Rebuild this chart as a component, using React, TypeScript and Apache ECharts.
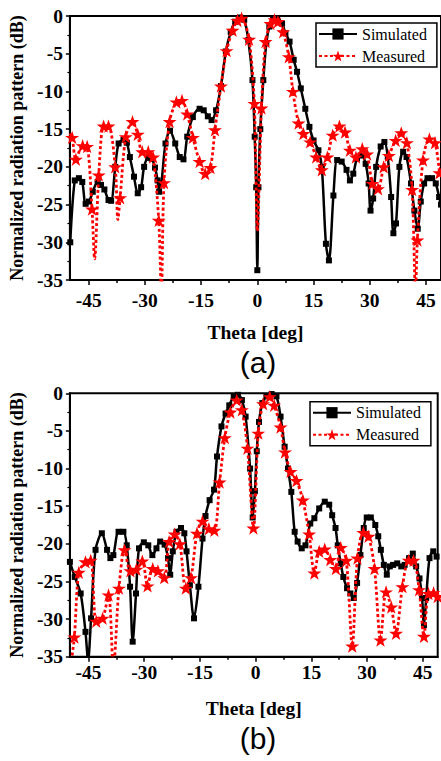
import React, { useEffect, useRef } from "react";
import * as echarts from "echarts";

// ---------- tick definitions ----------
const thetaTicks = [-45, -30, -15, 0, 15, 30, 45];
const thetaMinorTicks = [-37.5, -22.5, -7.5, 7.5, 22.5, 37.5];
const seriesNames = ["Simulated", "Measured"];

// ---------- (a) simulated ----------
const simATheta = [-49.9, -48.7, -47.6, -46.7, -45.8, -44.9, -43.9, -42.6, -41.7, -40.8, -39.7, -39.0, -37.9, -37.0, -35.7, -34.8, -34.0, -32.9, -31.9, -31.0, -30.2, -29.1, -28.2, -27.3, -26.6, -26.2, -25.6, -24.5, -23.3, -21.9, -20.7, -19.7, -18.7, -17.2, -15.4, -14.3, -13.2, -12.2, -11.0, -9.7, -8.4, -7.1, -5.9, -4.6, -3.5, -2.4, -1.3, -0.7, -0.3, 0.0, 0.3, 0.8, 1.6, 2.4, 3.2, 4.2, 5.3, 6.6, 7.5, 8.6, 9.7, 10.6, 11.6, 12.8, 13.9, 15.0, 16.3, 17.2, 18.3, 19.1, 20.3, 21.3, 22.5, 23.8, 24.7, 25.6, 26.6, 27.8, 28.9, 29.7, 30.2, 30.9, 31.7, 32.9, 33.9, 34.8, 35.7, 36.3, 37.0, 37.9, 38.9, 39.8, 41.0, 41.9, 42.8, 43.6, 44.5, 45.4, 46.6, 47.6, 48.5, 49.0];
const simADb = [-30.0, -21.8, -21.5, -22.0, -24.9, -24.6, -23.3, -22.0, -22.4, -23.0, -24.4, -24.5, -20.0, -16.9, -16.4, -16.8, -18.7, -21.3, -23.5, -22.7, -20.0, -18.8, -18.9, -20.1, -21.8, -23.3, -22.2, -16.9, -15.2, -16.9, -18.7, -19.0, -16.0, -13.4, -12.3, -12.5, -13.3, -13.8, -12.5, -9.3, -4.7, -2.1, -0.75, -0.2, -0.5, -3.2, -8.5, -16.0, -22.7, -33.7, -22.7, -15.0, -8.5, -3.6, -1.4, -0.45, -0.3, -1.0, -2.3, -3.4, -5.8, -7.4, -9.6, -12.3, -14.7, -16.5, -17.8, -20.0, -30.2, -32.4, -23.8, -19.1, -19.3, -20.4, -21.8, -20.9, -18.9, -18.5, -19.6, -22.2, -25.8, -24.2, -20.0, -17.3, -16.7, -18.7, -24.0, -28.8, -27.5, -20.0, -18.0, -18.7, -22.2, -25.8, -28.2, -24.6, -22.2, -21.5, -21.5, -22.2, -24.0, -25.0];

// ---------- (a) measured (star points and unmarked nulls) ----------
const measATheta = [-49.4, -48.4, -46.6, -45.4, -44.1, -42.3, -41.0, -39.7, -37.9, -36.6, -35.1, -33.3, -31.9, -30.7, -29.1, -27.8, -26.3, -24.9, -23.4, -21.6, -20.1, -18.7, -17.2, -15.4, -13.9, -12.5, -11.3, -9.7, -8.2, -6.6, -5.3, -4.2, -2.2, -0.8, 1.1, 2.2, 3.5, 4.6, 5.5, 6.9, 8.4, 9.5, 11.0, 12.3, 14.1, 15.7, 17.2, 18.7, 20.1, 21.9, 23.4, 24.7, 26.3, 28.0, 29.3, 30.7, 32.2, 33.7, 35.1, 36.9, 38.4, 39.9, 41.3, 42.7, 44.2, 45.9, 47.4, 48.6];
const measADb = [-16.1, -19.0, -17.2, -17.3, -25.6, -21.1, -14.6, -14.6, -20.0, -24.1, -16.0, -14.0, -15.7, -18.0, -18.0, -18.7, -27.1, -22.1, -14.0, -11.4, -11.2, -13.0, -16.1, -19.3, -20.9, -20.1, -15.1, -9.3, -4.6, -1.9, -0.6, -0.3, -3.1, -11.6, -12.2, -3.4, -1.0, -0.5, -0.75, -2.1, -5.4, -10.0, -14.2, -15.6, -16.7, -18.7, -20.4, -18.7, -15.8, -14.6, -15.4, -17.8, -18.7, -17.6, -18.3, -22.2, -22.9, -20.0, -18.5, -16.5, -15.5, -16.8, -23.0, -29.7, -19.1, -16.3, -16.8, -20.8];
const measANullTheta = [-50.0, -43.4, -37.2, -25.6, 0.0, 42.2];
const measANullDb = [-15.6, -32.2, -27.0, -36.5, -28.5, -36.5];

// ---------- (b) simulated ----------
const simBTheta = [-50.0, -48.7, -47.1, -45.8, -45.1, -44.3, -43.1, -41.4, -40.0, -39.1, -38.3, -36.9, -35.6, -34.7, -33.8, -33.1, -32.2, -31.4, -30.1, -28.9, -27.8, -26.7, -25.7, -24.5, -23.6, -23.0, -22.3, -21.3, -20.1, -19.2, -18.6, -17.7, -16.6, -15.4, -14.3, -13.5, -12.4, -11.2, -10.4, -9.2, -8.1, -7.1, -5.9, -4.8, -3.7, -2.7, -1.5, -0.8, -0.2, 0.3, 0.9, 1.8, 2.9, 4.3, 5.6, 6.7, 7.8, 8.7, 9.6, 10.5, 11.3, 12.4, 13.4, 14.7, 15.8, 17.1, 18.6, 19.8, 20.6, 21.5, 22.1, 22.9, 23.6, 24.6, 25.5, 26.4, 27.3, 28.2, 29.1, 29.9, 31.0, 32.2, 33.0, 33.7, 34.5, 35.3, 36.1, 37.0, 38.1, 39.2, 40.1, 41.3, 42.3, 43.2, 44.1, 44.8, 45.3, 45.9, 46.8, 47.8, 48.7];
const simBDb = [-22.4, -24.4, -26.6, -31.7, -35.5, -29.9, -20.8, -18.6, -20.8, -21.9, -21.5, -18.4, -18.4, -20.2, -25.7, -33.0, -26.6, -20.6, -19.8, -20.2, -21.5, -20.6, -19.7, -20.1, -21.9, -24.1, -21.0, -18.4, -17.9, -18.6, -21.0, -25.5, -29.9, -25.7, -19.3, -16.3, -14.2, -12.8, -8.4, -4.4, -2.7, -1.6, -0.4, -0.2, -0.9, -3.1, -10.0, -16.5, -13.0, -7.7, -3.8, -1.3, -0.4, -0.1, -0.4, -3.1, -7.1, -10.0, -13.1, -18.4, -19.7, -20.6, -20.2, -17.3, -16.6, -15.3, -14.4, -14.8, -16.2, -17.9, -20.2, -22.6, -24.4, -25.9, -26.6, -27.2, -25.2, -21.5, -17.9, -16.5, -16.5, -17.5, -19.0, -20.8, -22.8, -24.1, -23.0, -22.8, -22.6, -23.0, -22.8, -21.9, -21.3, -23.0, -24.6, -27.2, -30.8, -27.2, -21.9, -21.0, -21.7];

// ---------- (b) measured ----------
const measBTheta = [-48.8, -47.6, -45.8, -44.4, -42.9, -41.2, -39.6, -36.8, -35.3, -33.7, -32.1, -30.5, -29.1, -27.7, -26.3, -24.6, -23.3, -21.8, -20.4, -18.8, -17.4, -15.8, -14.3, -12.6, -11.1, -9.7, -8.3, -6.8, -5.1, -3.7, -2.2, -0.6, 0.7, 2.0, 3.8, 5.0, 6.7, 7.9, 9.4, 11.0, 12.7, 14.4, 15.8, 17.1, 18.6, 20.1, 21.6, 22.9, 24.4, 26.0, 27.4, 29.0, 30.4, 32.0, 33.6, 35.1, 36.5, 37.8, 39.5, 41.2, 42.5, 44.0, 45.3, 46.5, 47.9, 49.0];
const measBDb = [-32.4, -23.8, -22.4, -22.2, -30.3, -29.9, -26.8, -25.9, -20.8, -23.6, -23.4, -22.3, -25.6, -23.3, -23.6, -24.5, -19.7, -18.7, -20.0, -25.9, -24.5, -18.6, -17.0, -18.0, -18.2, -11.8, -5.9, -2.5, -0.9, -2.2, -7.3, -17.9, -5.3, -1.4, -0.45, -1.6, -4.5, -7.8, -10.4, -11.6, -14.2, -18.7, -23.9, -21.0, -20.7, -22.1, -23.3, -20.5, -22.2, -33.6, -21.9, -18.5, -19.0, -23.3, -32.8, -26.4, -28.4, -31.9, -25.7, -22.2, -22.2, -26.1, -32.3, -26.6, -26.5, -27.0];
const measBNullTheta = [-50.0, -38.3];
const measBNullDb = [-37.0, -36.5];

const STAR =
  "path://M50,0 L61.8,35.1 L98.1,35.1 L68.8,56.9 L79.4,91.5 L50,70 L20.6,91.5 L31.2,56.9 L1.9,35.1 L38.2,35.1 Z";

const SERIF = "'Liberation Serif', 'Times New Roman', serif";

function pairs(xs: number[], ys: number[]) {
  return xs.map((x, i) => [x, ys[i]]);
}

function measuredData(xs: number[], ys: number[], nx: number[], ny: number[]) {
  const pts: any[] = [];
  xs.forEach((x, i) => pts.push({ value: [x, ys[i]] }));
  nx.forEach((x, i) => pts.push({ value: [x, ny[i]], symbol: "none" }));
  pts.sort((a, b) => a.value[0] - b.value[0]);
  return pts;
}

const grids = [
  { left: 67.3, top: 16, width: 373.7, height: 264 },
  { left: 65.7, top: 393.3, width: 372, height: 263.4 },
];

export default function App() {
  const ref = useRef<HTMLDivElement>(null);

  useEffect(() => {
    if (!ref.current) return;
    const chart = echarts.init(ref.current, undefined, { renderer: "svg" });

    const xAxes: any[] = [];
    const yAxes: any[] = [];
    grids.forEach((_, i) => {
      xAxes.push({
        type: "value",
        gridIndex: i,
        min: -50,
        max: 49,
        position: "bottom",
        axisLine: { show: true, onZero: false, lineStyle: { color: "#000", width: 2 } },
        axisTick: { show: true, customValues: thetaTicks, length: 5, lineStyle: { color: "#000", width: 1.5 } },
        axisLabel: {
          customValues: thetaTicks,
          color: "#000",
          fontFamily: SERIF,
          fontWeight: "bold",
          fontSize: 19.5,
          margin: i === 0 ? 10 : 6,
        },
        splitLine: { show: false },
        name: "Theta [deg]",
        nameLocation: "middle",
        nameGap: 42,
        nameTextStyle: { color: "#000", fontFamily: SERIF, fontWeight: "bold", fontSize: 19.5 },
      });
      xAxes.push({
        type: "value",
        gridIndex: i,
        min: -50,
        max: 49,
        position: "bottom",
        offset: 0,
        axisLine: { show: false, onZero: false },
        axisTick: { show: true, customValues: thetaMinorTicks, length: 3, lineStyle: { color: "#000", width: 1.5 } },
        axisLabel: { show: false },
        splitLine: { show: false },
      });
      yAxes.push({
        type: "value",
        gridIndex: i,
        min: -35,
        max: 0,
        interval: 5,
        axisLine: { show: true, onZero: false, lineStyle: { color: "#000", width: 2 } },
        axisTick: { show: true, length: 4, lineStyle: { color: "#000", width: 1.5 } },
        minorTick: { show: true, splitNumber: 2, length: 2.5, lineStyle: { color: "#000", width: 1.2 } },
        axisLabel: { color: "#000", fontFamily: SERIF, fontWeight: "bold", fontSize: 19.5, margin: 7 },
        splitLine: { show: false },
        name: "Normalized radiation pattern (dB)",
        nameLocation: "middle",
        nameGap: 40,
        nameTextStyle: { color: "#000", fontFamily: SERIF, fontWeight: "bold", fontSize: 18 },
      });
    });

    const simStyle = (data: any[], i: number) => ({
      name: "Simulated",
      type: "line",
      xAxisIndex: i * 2,
      yAxisIndex: i,
      data,
      smooth: 0.3,
      symbol: "rect",
      symbolSize: 6,
      showSymbol: true,
      itemStyle: { color: "#000" },
      lineStyle: { color: "#000", width: 2.5 },
      z: 2,
    });
    const measStyle = (data: any[], i: number) => ({
      name: "Measured",
      type: "line",
      xAxisIndex: i * 2,
      yAxisIndex: i,
      data,
      smooth: 0.3,
      symbol: STAR,
      symbolSize: 14,
      symbolKeepAspect: true,
      showSymbol: true,
      itemStyle: { color: "#ff0000" },
      lineStyle: { color: "#ff0000", width: 2.8, type: [3, 2.5] },
      z: 3,
    });

    const legendBase = {
      orient: "vertical",
      data: seriesNames,
      itemWidth: 38,
      itemHeight: 14,
      itemGap: 6,
      itemTextGap: 3,
      borderColor: "#000",
      borderWidth: 1.5,
      borderRadius: 0,
      selectedMode: false,
      textStyle: { color: "#000", fontFamily: SERIF, fontSize: 16 },
    };

    chart.setOption({
      animation: false,
      backgroundColor: "#fff",
      grid: grids.map((g) => ({ ...g, show: true, borderColor: "#000", borderWidth: 2, containLabel: false })),
      xAxis: xAxes,
      yAxis: yAxes,
      legend: [
        { ...legendBase, left: 316, top: 23, padding: [3, 10, 3, 2] },
        { ...legendBase, left: 310, top: 401.7, padding: [3, 10, 3, 2] },
      ],
      graphic: [
        {
          type: "text",
          x: 258,
          y: 362,
          style: { text: "(a)", fontSize: 30, fontFamily: "'Liberation Sans', Arial, sans-serif", fill: "#000", textAlign: "center", textVerticalAlign: "middle" },
        },
        {
          type: "text",
          x: 258,
          y: 738,
          style: { text: "(b)", fontSize: 30, fontFamily: "'Liberation Sans', Arial, sans-serif", fill: "#000", textAlign: "center", textVerticalAlign: "middle" },
        },
      ],
      series: [
        simStyle(pairs(simATheta, simADb), 0),
        measStyle(measuredData(measATheta, measADb, measANullTheta, measANullDb), 0),
        simStyle(pairs(simBTheta, simBDb), 1),
        measStyle(measuredData(measBTheta, measBDb, measBNullTheta, measBNullDb), 1),
      ],
    });

    return () => chart.dispose();
  }, []);

  return (
    <div
      ref={ref}
      style={{ position: "fixed", left: 0, top: 0, width: 441, height: 761, background: "#fff" }}
    />
  );
}
